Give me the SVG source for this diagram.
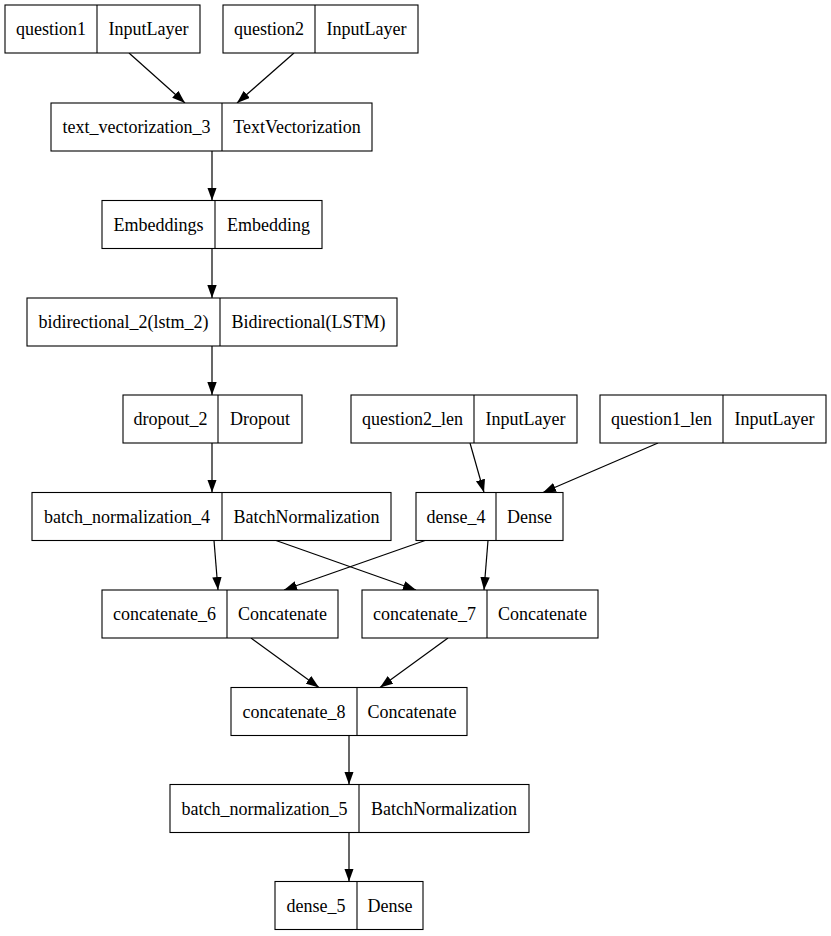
<svg xmlns="http://www.w3.org/2000/svg" width="831" height="936" viewBox="0 0 831 936">
<defs>
<style>
.box{fill:#fff;stroke:#000;stroke-width:1.1}
.div{stroke:#000;stroke-width:1.1}
text{font-family:"Liberation Serif","Times New Roman",serif;font-size:18px;fill:#000;text-anchor:middle}
.edge{stroke:#000;stroke-width:1.2;fill:none;marker-end:url(#arr)}
</style>
<marker id="arr" markerUnits="userSpaceOnUse" markerWidth="14" markerHeight="10" refX="13" refY="4.7" orient="auto">
<path d="M0,0 L13,4.7 L0,9.4 Z" fill="#000"/>
</marker>
</defs>
<rect width="831" height="936" fill="#fff"/>
<g id="edges">
<line class="edge" x1="129" y1="53" x2="185" y2="103"/>
<line class="edge" x1="294" y1="53" x2="237" y2="103"/>
<line class="edge" x1="212" y1="151" x2="212" y2="200.5"/>
<line class="edge" x1="212" y1="248.5" x2="212" y2="298"/>
<line class="edge" x1="212" y1="346" x2="212" y2="395"/>
<line class="edge" x1="212" y1="443" x2="212" y2="492.5"/>
<line class="edge" x1="470" y1="443" x2="484" y2="492.5"/>
<line class="edge" x1="658" y1="443" x2="543" y2="492.5"/>
<line class="edge" x1="214" y1="540.5" x2="218" y2="590"/>
<line class="edge" x1="276" y1="540.5" x2="416" y2="590"/>
<line class="edge" x1="425" y1="540.5" x2="284" y2="590"/>
<line class="edge" x1="488" y1="540.5" x2="484" y2="590"/>
<line class="edge" x1="251" y1="638" x2="319" y2="687.5"/>
<line class="edge" x1="448" y1="638" x2="380" y2="687.5"/>
<line class="edge" x1="349" y1="735.5" x2="349" y2="784.5"/>
<line class="edge" x1="349" y1="832.5" x2="349" y2="881.5"/>
</g>
<g id="question1">
<rect class="box" x="5" y="5" width="195" height="48"/><line class="div" x1="97" y1="5" x2="97" y2="53"/>
<text x="51" y="35">question1</text><text x="148.5" y="35">InputLayer</text>
</g>
<g id="question2">
<rect class="box" x="223" y="5" width="195" height="48"/><line class="div" x1="315" y1="5" x2="315" y2="53"/>
<text x="269" y="35">question2</text><text x="366.5" y="35">InputLayer</text>
</g>
<g id="text_vectorization_3">
<rect class="box" x="51" y="103" width="321" height="48"/><line class="div" x1="222" y1="103" x2="222" y2="151"/>
<text x="136.5" y="133">text_vectorization_3</text><text x="297" y="133">TextVectorization</text>
</g>
<g id="Embeddings">
<rect class="box" x="102" y="200.5" width="220" height="48"/><line class="div" x1="215" y1="200.5" x2="215" y2="248.5"/>
<text x="158.5" y="230.5">Embeddings</text><text x="268.5" y="230.5">Embedding</text>
</g>
<g id="bidirectional_2">
<rect class="box" x="27" y="298" width="370" height="48"/><line class="div" x1="220" y1="298" x2="220" y2="346"/>
<text x="123.5" y="328">bidirectional_2(lstm_2)</text><text x="308.5" y="328">Bidirectional(LSTM)</text>
</g>
<g id="dropout_2">
<rect class="box" x="123" y="395" width="179" height="48"/><line class="div" x1="218" y1="395" x2="218" y2="443"/>
<text x="170.5" y="425">dropout_2</text><text x="260" y="425">Dropout</text>
</g>
<g id="question2_len">
<rect class="box" x="351" y="395" width="226" height="48"/><line class="div" x1="474" y1="395" x2="474" y2="443"/>
<text x="412.5" y="425">question2_len</text><text x="525.5" y="425">InputLayer</text>
</g>
<g id="question1_len">
<rect class="box" x="600" y="395" width="226" height="48"/><line class="div" x1="723" y1="395" x2="723" y2="443"/>
<text x="661.5" y="425">question1_len</text><text x="774.5" y="425">InputLayer</text>
</g>
<g id="batch_normalization_4">
<rect class="box" x="32" y="492.5" width="359" height="48"/><line class="div" x1="222" y1="492.5" x2="222" y2="540.5"/>
<text x="127" y="522.5">batch_normalization_4</text><text x="306.5" y="522.5">BatchNormalization</text>
</g>
<g id="dense_4">
<rect class="box" x="416" y="492.5" width="147" height="48"/><line class="div" x1="496" y1="492.5" x2="496" y2="540.5"/>
<text x="456" y="522.5">dense_4</text><text x="529.5" y="522.5">Dense</text>
</g>
<g id="concatenate_6">
<rect class="box" x="102" y="590" width="236" height="48"/><line class="div" x1="227" y1="590" x2="227" y2="638"/>
<text x="164.5" y="620">concatenate_6</text><text x="282.5" y="620">Concatenate</text>
</g>
<g id="concatenate_7">
<rect class="box" x="362" y="590" width="236" height="48"/><line class="div" x1="487" y1="590" x2="487" y2="638"/>
<text x="424.5" y="620">concatenate_7</text><text x="542.5" y="620">Concatenate</text>
</g>
<g id="concatenate_8">
<rect class="box" x="231" y="687.5" width="236" height="48"/><line class="div" x1="357" y1="687.5" x2="357" y2="735.5"/>
<text x="294" y="717.5">concatenate_8</text><text x="412" y="717.5">Concatenate</text>
</g>
<g id="batch_normalization_5">
<rect class="box" x="170" y="784.5" width="359" height="48"/><line class="div" x1="359" y1="784.5" x2="359" y2="832.5"/>
<text x="264.5" y="814.5">batch_normalization_5</text><text x="444" y="814.5">BatchNormalization</text>
</g>
<g id="dense_5">
<rect class="box" x="275" y="881.5" width="148" height="48"/><line class="div" x1="357" y1="881.5" x2="357" y2="929.5"/>
<text x="316" y="911.5">dense_5</text><text x="390" y="911.5">Dense</text>
</g>
</svg>
